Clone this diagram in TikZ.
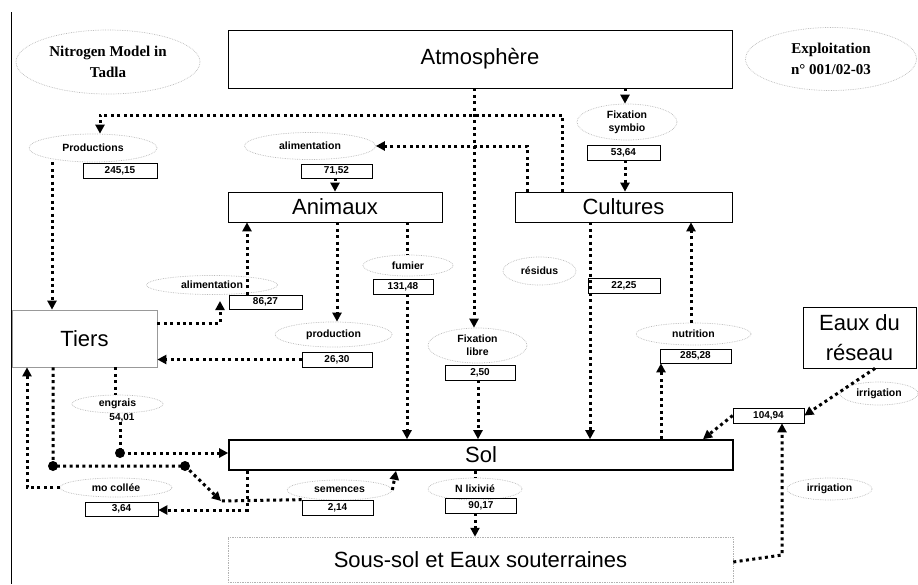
\documentclass[tikz,border=0pt]{standalone}
\usepackage{fontspec}
\setmainfont{Liberation Sans}
\newfontfamily\serifb{Liberation Serif}
\usetikzlibrary{arrows.meta,shapes.geometric}
\tikzset{
 flow/.style={line width=3pt, dash pattern=on 3pt off 3.4pt},
 arr/.style={-{Triangle[length=9pt,width=9pt]}},
 labell/.style={ellipse, draw=gray!55, densely dotted, line width=0.7pt, inner sep=0pt, align=center, font=\fontsize{10.5}{13}\selectfont\bfseries},
 numbox/.style={rectangle, draw=black, line width=0.7pt, inner sep=0pt, font=\fontsize{10}{12}\selectfont\bfseries},
 mainbox/.style={rectangle, draw=black, line width=0.7pt, inner sep=0pt, font=\fontsize{22}{26}\selectfont},
 jdot/.style={circle, fill=black, inner sep=0pt, minimum size=10pt},
 titlefont/.style={font=\serifb\fontsize{15}{21}\selectfont\bfseries},
}
\begin{document}
\begin{tikzpicture}[x=1pt,y=-1pt]
\useasboundingbox (0,0) rectangle (918,584);
\draw[line width=0.8pt] (11,12) -- (11,584);

% title ellipses
\node[labell, titlefont, minimum width=184pt, minimum height=64pt] (title) at (108,62) {Nitrogen Model in\\Tadla};
\node[labell, titlefont, minimum width=171pt, minimum height=63pt] (expl) at (831,59) {Exploitation\\n° 001/02-03};

% main boxes
\node[mainbox, minimum width=504pt, minimum height=58pt] (atm) at (480,59) {Atmosphère};
\node[mainbox, minimum width=214pt, minimum height=30pt] (anim) at (335,207) {Animaux};
\node[mainbox, minimum width=217pt, minimum height=30pt] (cult) at (623.5,207) {Cultures};
\node[mainbox, draw=gray!80, minimum width=145pt, minimum height=57pt] (tiers) at (84.5,338.5) {Tiers};
\node[mainbox, align=center, font=\fontsize{22}{30}\selectfont, minimum width=113pt, minimum height=61pt] (eaux) at (859.5,337.5) {Eaux du\\réseau};
\node[mainbox, line width=1.6pt, minimum width=504pt, minimum height=30pt] (sol) at (481,455) {Sol};
\node[mainbox, draw=gray!60, densely dotted, line width=0.5pt, minimum width=505pt, minimum height=45pt] (sous) at (480.5,559.5) {Sous-sol et Eaux souterraines};

% flow labels and values
\node[labell, minimum width=128pt, minimum height=28pt] (prod) at (93,148) {Productions};
\node[numbox, minimum width=74pt, minimum height=15pt] (n24515) at (120,170.5) {245,15};
\node[labell, minimum width=131pt, minimum height=27pt] (alim1) at (310,146) {alimentation};
\node[numbox, minimum width=71pt, minimum height=14pt] (n7152) at (336.5,171) {71,52};
\node[labell, minimum width=100pt, minimum height=36pt] (fsym) at (627,122) {Fixation\\symbio};
\node[numbox, minimum width=73pt, minimum height=15pt] (n5364) at (623.5,152.5) {53,64};
\node[labell, minimum width=131pt, minimum height=19pt] (alim2) at (212,285) {alimentation};
\node[numbox, minimum width=73pt, minimum height=14pt] (n8627) at (265.5,302) {86,27};
\node[labell, minimum width=90pt, minimum height=21pt] (fum) at (408,265.5) {fumier};
\node[numbox, minimum width=60pt, minimum height=15pt] (n13148) at (403,286.5) {131,48};
\node[labell, minimum width=117pt, minimum height=25pt] (prodn) at (333.5,334.5) {production};
\node[numbox, minimum width=70pt, minimum height=15pt] (n2630) at (337,359.5) {26,30};
\node[labell, minimum width=99pt, minimum height=35pt] (flib) at (477.5,345.5) {Fixation\\libre};
\node[numbox, minimum width=70pt, minimum height=15pt] (n250) at (480,372.5) {2,50};
\node[labell, minimum width=73pt, minimum height=28pt] (res) at (539.5,271) {résidus};
\node[numbox, minimum width=72pt, minimum height=15pt] (n2225) at (624,285.5) {22,25};
\node[labell, minimum width=115pt, minimum height=22pt] (nutr) at (693.5,334) {nutrition};
\node[numbox, minimum width=71pt, minimum height=14pt] (n28528) at (695.5,356) {285,28};
\node[labell, minimum width=78pt, minimum height=23pt] (irr1) at (879,393.5) {irrigation};
\node[numbox, minimum width=71pt, minimum height=15pt] (n10494) at (768.5,415.5) {104,94};
\node[labell, minimum width=85pt, minimum height=22pt] (irr2) at (829.5,489) {irrigation};
\node[labell, minimum width=94pt, minimum height=22pt] (nlix) at (475,489) {N lixivié};
\node[numbox, minimum width=71pt, minimum height=15pt] (n9017) at (481,505.5) {90,17};
\node[labell, minimum width=105pt, minimum height=20pt] (sem) at (339.5,490) {semences};
\node[numbox, minimum width=71pt, minimum height=15pt] (n214) at (337.5,507.5) {2,14};
\node[labell, minimum width=112pt, minimum height=19pt] (mo) at (116,487.5) {mo collée};
\node[numbox, minimum width=73pt, minimum height=14pt] (n364) at (121.5,509) {3,64};
\node[labell, minimum width=91pt, minimum height=18pt] (engr) at (117.5,404) {engrais};
\node[inner sep=0pt, font=\fontsize{10}{12}\selectfont\bfseries] (v5401) at (122,418) {54,01};

% junction points
\coordinate (a2end) at (220,301);
\coordinate (semj) at (221,501);
\node[jdot] (dA) at (53,466) {};
\node[jdot] (dB) at (185,466) {};
\node[jdot] (dC) at (120,453) {};

% connectors
\draw[flow,arr] (cult.north -| 562,0) -- (562,115) -- (100,115) -- (prod.north -| 100,0);
\draw[flow,arr] (atm.south -| 474,0) -- (flib.north -| 474,0);
\draw[flow,arr] (atm.south -| 625,0) -- (fsym.north -| 625,0);
\draw[flow,arr] (n5364.south -| 625,0) -- (cult.north -| 625,0);
\draw[flow,arr] (cult.north -| 527,0) -- (527,146) -- (alim1.east);
\draw[flow,arr] (n7152.south -| 335,0) -- (anim.north -| 335,0);
\draw[flow,arr] (prod.south -| 52,0) -- (tiers.north -| 52,0);
\draw[flow,arr] (tiers.east |- 0,323) -- (220,323) -- (a2end);
\draw[flow,arr] (n8627.north -| 247,0) -- (anim.south -| 247,0);
\draw[flow,arr] (anim.south -| 337,0) -- (prodn.north -| 337,0);
\draw[flow,arr] (n2630.west) -- (tiers.east |- n2630.west);
\draw[flow] (anim.south -| 407,0) -- (fum.north -| 407,0);
\draw[flow,arr] (n13148.south -| 407,0) -- (sol.north -| 407,0);
\draw[flow,arr] (n250.south -| 478,0) -- (sol.north -| 478,0);
\draw[flow,arr] (cult.south -| 590,0) -- (sol.north -| 590,0);
\draw[flow,arr] (sol.north -| 661,0) -- (n28528.south -| 661,0);
\draw[flow,arr] (nutr.north -| 691,0) -- (cult.south -| 691,0);
\draw[flow,arr] (eaux.south -| 875,0) -- (n10494.east);
\draw[flow,arr] (n10494.west) -- (sol.north -| 703,0);
\draw[flow,arr] (sous.east |- 0,562) -- (782,555) -- (n10494.south -| 782,0);
\draw[flow] (sol.south -| 475,0) -- (nlix.north);
\draw[flow,arr] (n9017.south -| 475,0) -- (sous.north -| 475,0);
\draw[flow] (tiers.south -| 115,0) -- (engr.north -| 115,0);
\draw[flow,arr] (v5401.south -| 120,0) -- (dC.center) -- (sol.west |- dC.center);
\draw[flow,arr] (tiers.south -| dA) -- (dA.center) -- (dB.center) -- (semj);
\draw[flow] (n214.north west) -- (semj);
\draw[flow,arr] (sol.south -| 247,0) -- (247,510) -- (n364.east |- 0,510);
\draw[flow,arr] (sem.east) -- (sol.south -| 396,0);
\draw[flow,arr] (mo.west) -- (27,487.5) -- (tiers.south -| 27,0);
\end{tikzpicture}
\end{document}
